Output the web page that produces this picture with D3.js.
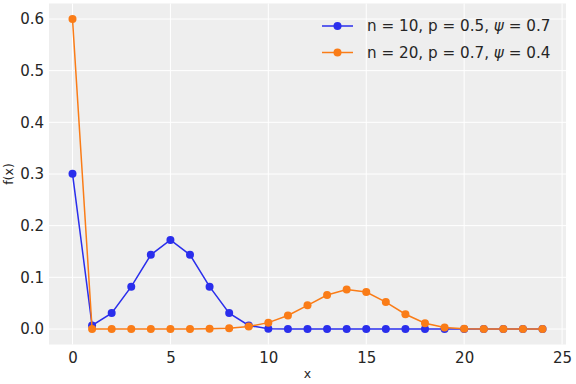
<!DOCTYPE html>
<html>
<head>
<meta charset="utf-8">
<script src="https://cdn.jsdelivr.net/npm/d3@7"></script>
<style>
  body { margin: 0; background: #fff; }
  svg { display: block; font-family: "DejaVu Sans", sans-serif; }
</style>
</head>
<body>
<svg id="chart" width="576" height="384"></svg>
<script>
const xs = d3.range(0, 25);

const series1 = [0.3007, 0.0068, 0.0308, 0.0820, 0.1436, 0.1723, 0.1436, 0.0820, 0.0308, 0.0068, 0.0007,
  0, 0, 0, 0, 0, 0, 0, 0, 0, 0, 0, 0, 0, 0];
const series2 = [0.6, 0, 0, 0, 0, 0, 0.0001, 0.0004, 0.0015, 0.0048, 0.0123, 0.0262, 0.0458, 0.0657,
  0.0766, 0.0716, 0.0522, 0.0286, 0.0111, 0.0027, 0.0003, 0, 0, 0, 0];

const seriesList = [
  { label: 'n = 10, p = 0.5, ', psi: '0.7', values: series1, color: '#2a2eec' },
  { label: 'n = 20, p = 0.7, ', psi: '0.4', values: series2, color: '#fa7c17' },
];

const xTicks = [0, 5, 10, 15, 20, 25];
const yTicks = [0, 0.1, 0.2, 0.3, 0.4, 0.5, 0.6];

const svg = d3.select('#chart');
const margin = { left: 49, right: 10, top: 3.5, bottom: 39.5 };
const width = 576 - margin.left - margin.right;
const height = 384 - margin.top - margin.bottom;

const xScale = d3.scaleLinear().domain([-1.2, 25.2]).range([0, width]);
const yScale = d3.scaleLinear().domain([-0.03, 0.63]).range([height, 0]);

const chart = svg.append('g').attr('transform', `translate(${margin.left},${margin.top})`);

chart.append('rect')
  .attr('width', width)
  .attr('height', height)
  .attr('fill', '#eeeeee');

// grid
chart.append('g')
  .selectAll('line')
  .data(xTicks.filter((d) => xScale(d) <= width))
  .join('line')
  .attr('x1', (d) => xScale(d))
  .attr('x2', (d) => xScale(d))
  .attr('y1', 0)
  .attr('y2', height)
  .attr('stroke', '#fff')
  .attr('stroke-width', 1);

chart.append('g')
  .selectAll('line')
  .data(yTicks)
  .join('line')
  .attr('x1', 0)
  .attr('x2', width)
  .attr('y1', (d) => yScale(d))
  .attr('y2', (d) => yScale(d))
  .attr('stroke', '#fff')
  .attr('stroke-width', 1);

// axes
const xAxisG = chart.append('g')
  .attr('transform', `translate(0,${height})`)
  .call(d3.axisBottom(xScale).tickValues(xTicks).tickSize(0).tickPadding(8).tickFormat(d3.format('d')));

const yAxisG = chart.append('g')
  .call(d3.axisLeft(yScale).tickValues(yTicks).tickSize(0).tickPadding(5).tickFormat(d3.format('.1f')));

[xAxisG, yAxisG].forEach((g) => {
  g.select('.domain').remove();
  g.selectAll('.tick text')
    .attr('font-size', 15)
    .attr('font-family', '"DejaVu Sans", sans-serif')
    .attr('fill', '#262626');
});

svg.append('text')
  .attr('x', margin.left + xScale(12))
  .attr('y', 378)
  .attr('text-anchor', 'middle')
  .attr('font-size', 12.5)
  .attr('fill', '#262626')
  .text('x');

svg.append('text')
  .attr('transform', `translate(13,${margin.top + yScale(0.3)}) rotate(-90)`)
  .attr('text-anchor', 'middle')
  .attr('font-size', 12.5)
  .attr('fill', '#262626')
  .text('f(x)');

// lines and markers
const line = d3.line()
  .x((d, i) => xScale(xs[i]))
  .y((d) => yScale(d));

seriesList.forEach((s) => {
  chart.append('path')
    .datum(s.values)
    .attr('d', line)
    .attr('fill', 'none')
    .attr('stroke', s.color)
    .attr('stroke-width', 1.5);

  chart.append('g')
    .selectAll('circle')
    .data(s.values)
    .join('circle')
    .attr('cx', (d, i) => xScale(xs[i]))
    .attr('cy', (d) => yScale(d))
    .attr('r', 4)
    .attr('fill', s.color);
});

// legend
const legend = svg.append('g').attr('transform', 'translate(322,26)');
seriesList.forEach((s, i) => {
  const row = legend.append('g').attr('transform', `translate(0,${i * 26.5})`);
  row.append('line')
    .attr('x1', 0)
    .attr('x2', 31)
    .attr('stroke', s.color)
    .attr('stroke-width', 1.5);
  row.append('circle')
    .attr('cx', 15.5)
    .attr('r', 4)
    .attr('fill', s.color);
  const t = row.append('text')
    .attr('x', 45)
    .attr('dy', '0.35em')
    .attr('font-size', 15.2)
    .attr('fill', '#262626');
  t.append('tspan').text(s.label);
  t.append('tspan').attr('font-style', 'italic').text('ψ');
  t.append('tspan').text(` = ${s.psi}`);
});
</script>
</body>
</html>
